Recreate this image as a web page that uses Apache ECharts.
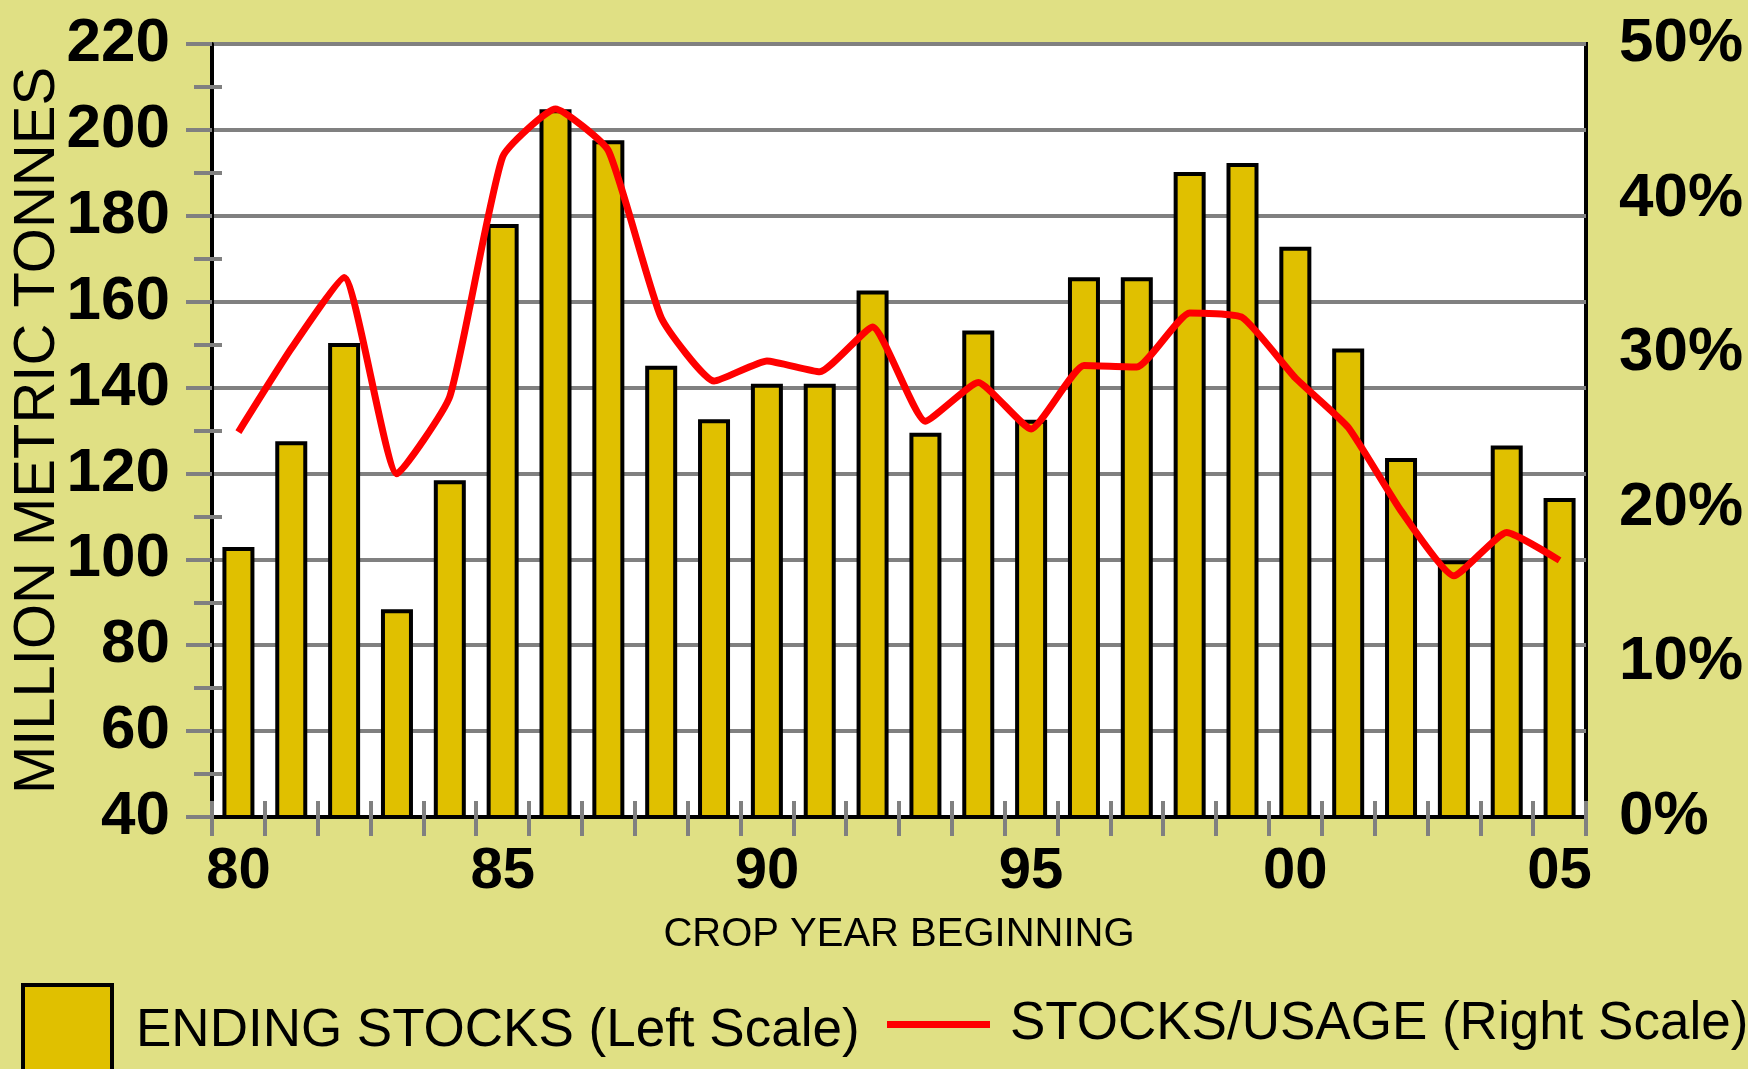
<!DOCTYPE html>
<html>
<head>
<meta charset="utf-8">
<script src="https://cdn.jsdelivr.net/npm/echarts@6/dist/echarts.min.js"></script>
<style>
  html, body { margin: 0; padding: 0; background: #e0e084; }
  #chart { width: 1748px; height: 1069px; }
</style>
</head>
<body>
<div id="chart"></div>
<script>
const years = ['80', '81', '82', '83', '84', '85', '86', '87', '88', '89', '90', '91', '92',
  '93', '94', '95', '96', '97', '98', '99', '00', '01', '02', '03', '04', '05']

// ending stocks, million metric tonnes (left scale)
const endingStocks = [102.9, 127.5, 150.4, 88.4, 118.4, 178.1, 204.8, 197.6, 145.1, 132.6,
  140.9, 140.9, 162.6, 129.5, 153.3, 132.5, 165.7, 165.7, 190.2, 192.3, 172.8, 149.1,
  123.6, 99.8, 126.5, 114.3]

// stocks / usage, percent (right scale)
const stocksUsage = [24.9, 30.3, 34.9, 22.2, 27.2, 42.7, 45.8, 43.1, 32.3, 28.2, 29.5, 28.8,
  31.7, 25.6, 28.1, 25.1, 29.2, 29.1, 32.6, 32.3, 28.4, 25.2, 19.8, 15.6, 18.4, 16.6]

const leftTicks = { min: 40, max: 220, interval: 20 }
const rightTicks = { min: 0, max: 50, interval: 10 }

const font = '"Liberation Sans", Arial, sans-serif'
const gray = '#808080'

const chart = echarts.init(document.getElementById('chart'))

chart.setOption({
  backgroundColor: '#e0e084',
  animation: false,
  grid: {
    left: 212,
    right: 162,
    top: 44,
    bottom: 252,
    outerBoundsMode: 'none',
    show: true,
    backgroundColor: '#ffffff',
    borderColor: '#000000',
    borderWidth: 4
  },
  legend: [
    {
      data: [{ name: 'ENDING STOCKS (Left Scale)', icon: 'rect' }],
      left: 21,
      top: 983,
      padding: 0,
      itemWidth: 89,
      itemHeight: 92,
      itemStyle: { borderColor: '#000', borderWidth: 4 },
      textStyle: { fontFamily: font, fontSize: 53, color: '#000', padding: [0, 0, 12, 19] }
    },
    {
      data: [{ name: 'STOCKS/USAGE (Right Scale)', icon: 'rect' }],
      left: 887,
      top: 998,
      padding: 0,
      itemWidth: 103,
      itemHeight: 7,
      itemStyle: { color: '#ff0000', borderWidth: 0 },
      textStyle: { fontFamily: font, fontSize: 53, color: '#000', padding: [0, 0, 0, 15] }
    }
  ],
  xAxis: [
    {
      type: 'category',
      data: years,
      position: 'bottom',
      name: 'CROP YEAR BEGINNING',
      nameLocation: 'middle',
      nameGap: 98,
      nameMoveOverlap: false,
      nameTextStyle: { fontFamily: font, fontSize: 40, color: '#000' },
      axisLine: { lineStyle: { color: '#000', width: 4 } },
      axisTick: { show: true, interval: 0, length: 19, lineStyle: { color: gray, width: 4 } },
      axisLabel: {
        interval: 4,
        margin: 26,
        fontFamily: font,
        fontWeight: 'bold',
        fontSize: 58,
        color: '#000'
      },
      splitLine: { show: false }
    },
    {
      // inner half of the crossing ticks
      type: 'category',
      data: years,
      position: 'bottom',
      axisLine: { show: false },
      axisTick: { show: true, inside: true, interval: 0, length: 16, lineStyle: { color: gray, width: 4 } },
      axisLabel: { show: false },
      splitLine: { show: false }
    }
  ],
  yAxis: [
    {
      type: 'value',
      position: 'left',
      min: leftTicks.min,
      max: leftTicks.max,
      interval: leftTicks.interval,
      name: 'MILLION METRIC TONNES',
      nameLocation: 'middle',
      nameGap: 145,
      nameMoveOverlap: false,
      nameTextStyle: { fontFamily: font, fontSize: 58, color: '#000' },
      axisLine: { show: true, lineStyle: { color: '#000', width: 4 } },
      axisTick: { show: true, length: 26, lineStyle: { color: gray, width: 4 } },
      minorTick: { show: true, splitNumber: 2, length: 18, lineStyle: { color: gray, width: 4 } },
      axisLabel: {
        margin: 42,
        fontFamily: font,
        fontWeight: 'bold',
        fontSize: 62,
        color: '#000'
      },
      splitLine: { show: true, lineStyle: { color: gray, width: 4 } }
    },
    {
      type: 'value',
      position: 'right',
      min: rightTicks.min,
      max: rightTicks.max,
      interval: rightTicks.interval,
      axisLine: { show: false },
      axisTick: { show: false },
      axisLabel: {
        margin: 33,
        formatter: '{value}%',
        fontFamily: font,
        fontWeight: 'bold',
        fontSize: 62,
        color: '#000'
      },
      splitLine: { show: false }
    },
    {
      // inner half of the minor ticks on the left
      type: 'value',
      position: 'left',
      min: leftTicks.min,
      max: leftTicks.max,
      interval: leftTicks.interval,
      axisLine: { show: false },
      axisTick: { show: false, inside: true },
      minorTick: { show: true, splitNumber: 2, length: 10, lineStyle: { color: gray, width: 4 } },
      axisLabel: { show: false },
      splitLine: { show: false }
    }
  ],
  series: [
    {
      name: 'ENDING STOCKS (Left Scale)',
      type: 'bar',
      xAxisIndex: 0,
      yAxisIndex: 0,
      data: endingStocks,
      barWidth: 32,
      itemStyle: { color: '#e0c000', borderColor: '#000', borderWidth: 4 }
    },
    {
      name: 'STOCKS/USAGE (Right Scale)',
      type: 'line',
      xAxisIndex: 0,
      yAxisIndex: 1,
      data: stocksUsage,
      smooth: 0.15,
      symbol: 'none',
      lineStyle: { color: '#ff0000', width: 7 },
      itemStyle: { color: '#ff0000' },
      z: 5
    }
  ]
})
</script>
</body>
</html>
